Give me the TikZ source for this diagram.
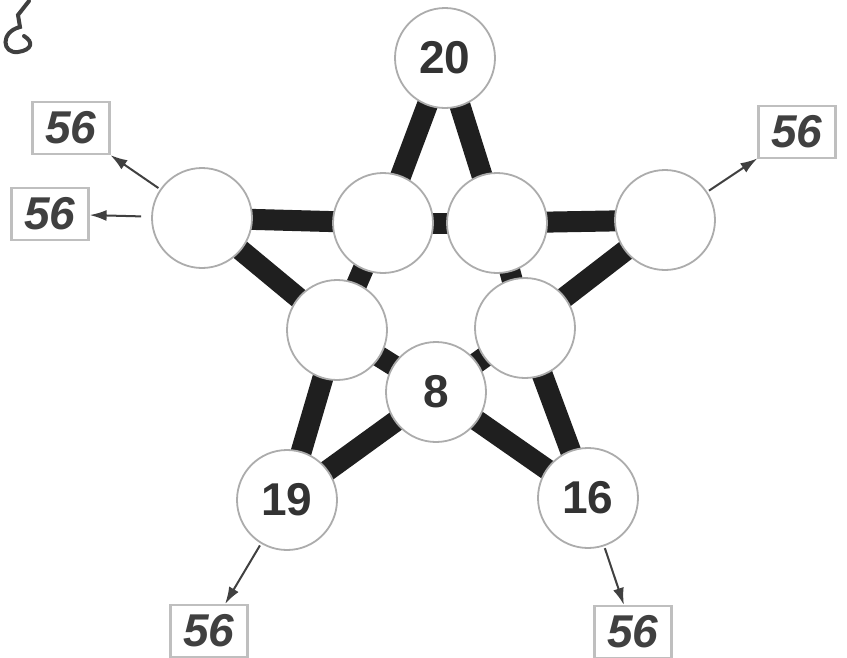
\documentclass[tikz,border=0pt]{standalone}
\usepackage{fontspec}
\setmainfont{Liberation Sans}
\usetikzlibrary{arrows.meta,backgrounds}
\begin{document}
\begin{tikzpicture}[>={Latex[length=17pt,width=11pt]}, x=1pt, y=-1pt,
  ball/.style={circle, draw=gray!65, line width=1.8pt, fill=white, minimum size=100pt, inner sep=0pt,
    font=\fontsize{46}{46}\selectfont\bfseries, text=black!80},
  tag/.style={draw=gray!50, line width=2.2pt, fill=white, minimum width=77pt, minimum height=52pt, inner sep=0pt,
    font=\fontsize{46}{46}\selectfont\bfseries\itshape, text=black!75},
  bar/.style={line width=21pt, black!88},
  lead/.style={->, line width=2pt, black!75}]
\useasboundingbox (0,0) rectangle (847,657);
% the ten balls
\node[ball] (n20) at (445,58) {20};
\node[ball] (a) at (383,223) {};
\node[ball] (b) at (497,223) {};
\node[ball] (l) at (202,218) {};
\node[ball] (r) at (665,220) {};
\node[ball] (c) at (337,330) {};
\node[ball] (d) at (525,328) {};
\node[ball] (n8) at (436,392) {8};
\node[ball] (n19) at (287,500) {19};
\node[ball] (n16) at (588,498) {16};
% bars behind the balls
\begin{scope}[on background layer]
\foreach \p/\q in {l/a, a/b, b/r, n20/a, a/c, c/n19, n20/b, b/d, d/n16, l/c, c/n8, n8/n16, r/d, d/n8, n8/n19}
  \draw[bar] (\p.center)--(\q.center);
\end{scope}
% tags
\node[tag] (t1) at (71,128) {56};
\node[tag] (t2) at (50,214) {56};
\node[tag] (t3) at (797,132) {56};
\node[tag] (t4) at (209,631) {56};
\node[tag] (t5) at (633,632) {56};
\draw[lead, shorten <=2pt](l)--(t1);
\draw[lead, shorten <=10pt](l)--(t2);
\draw[lead, shorten <=2pt](r)--(t3);
\draw[lead, shorten <=2pt](n19)--(t4);
\draw[lead, shorten <=2pt](n16)--(t5);
% mark in the corner
\draw[line width=4pt, black!75, line cap=round](29,1)--(18,15)--(20,27) .. controls (0,32) and (2,54) .. (18,52) .. controls (32,50) and (34,42) .. (24,36);
\end{tikzpicture}
\end{document}
